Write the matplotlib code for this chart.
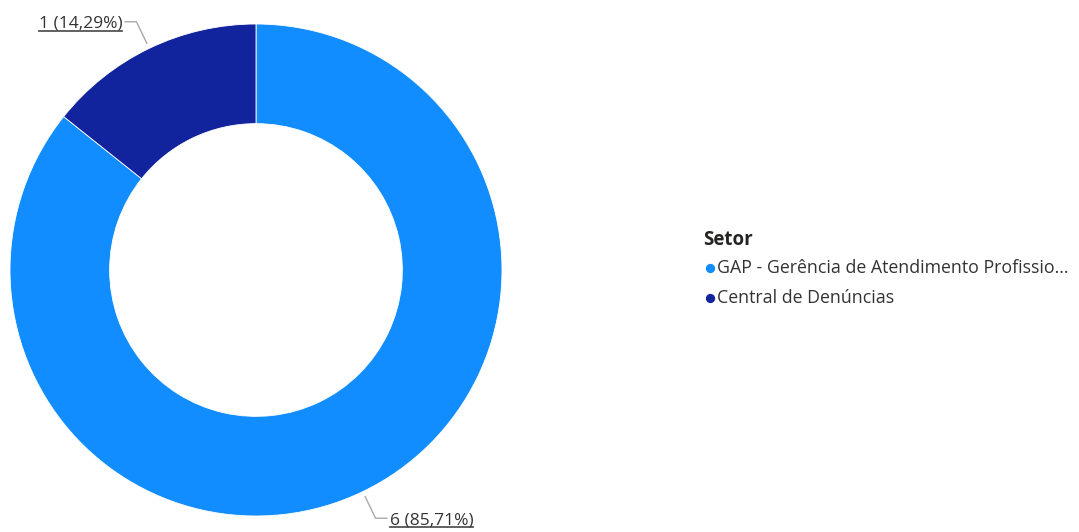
import numpy as np
import matplotlib.pyplot as plt

setores = ["GAP - Gerência de Atendimento Profissio...", "Central de Denúncias"]
valores = [6, 1]
cores = ["#118DFF", "#12239E"]

W, H = 1079, 532
fig = plt.figure(figsize=(W / 100, H / 100), dpi=100)
ax = fig.add_axes([0, 0, 1, 1])

cx, cy, r = 256, H - 270, 246
wedges, _ = ax.pie(valores, colors=cores, startangle=90, counterclock=False,
                   radius=r, center=(cx, cy), frame=True,
                   wedgeprops=dict(width=r * 0.405, edgecolor="white", linewidth=0.6))
ax.set_xlim(0, W)
ax.set_ylim(0, H)
ax.set_aspect("equal")
ax.axis("off")

total = sum(valores)
fonte = ["Open Sans", "DejaVu Sans"]
renderer = fig.canvas.get_renderer()
inv = ax.transData.inverted()

for w, v in zip(wedges, valores):
    ang = np.deg2rad((w.theta1 + w.theta2) / 2)
    x0 = cx + r * 1.02 * np.cos(ang)
    y0 = cy + r * 1.02 * np.sin(ang)
    x1 = cx + r * 1.12 * np.cos(ang)
    y1 = cy + r * 1.12 * np.sin(ang)
    lado = 1 if np.cos(ang) >= 0 else -1
    x2 = x1 + 12 * lado
    ax.plot([x0, x1, x2], [y0, y1, y1], color="#a8a8a8", lw=1, solid_capstyle="butt")
    txt = f"{v} ({v / total * 100:.2f}%)".replace(".", ",")
    t = ax.text(x2 + 2 * lado, y1 - 2, txt, ha="left" if lado > 0 else "right",
                va="center", fontsize=12.5, color="#333333", family=fonte)
    bb = t.get_window_extent(renderer)
    (bx0, by0), (bx1, by1) = inv.transform([[bb.x0, bb.y0], [bb.x1, bb.y1]])
    ax.plot([bx0, bx1], [by0 + 1, by0 + 1], color="#555555", lw=1.3)

# legenda
ax.text(703, H - 240, "Setor", fontsize=13.5, fontweight="bold", color="#252423",
        va="center", ha="left", family=fonte)
for i, (s, c) in enumerate(zip(setores, cores)):
    yy = H - 268 - 30 * i
    ax.scatter([710], [yy], s=32, color=c, zorder=3)
    ax.text(717, yy, s, fontsize=12.8, color="#333333", va="center", ha="left",
            family=fonte)

fig.savefig("out.png", dpi=100, facecolor="white")
